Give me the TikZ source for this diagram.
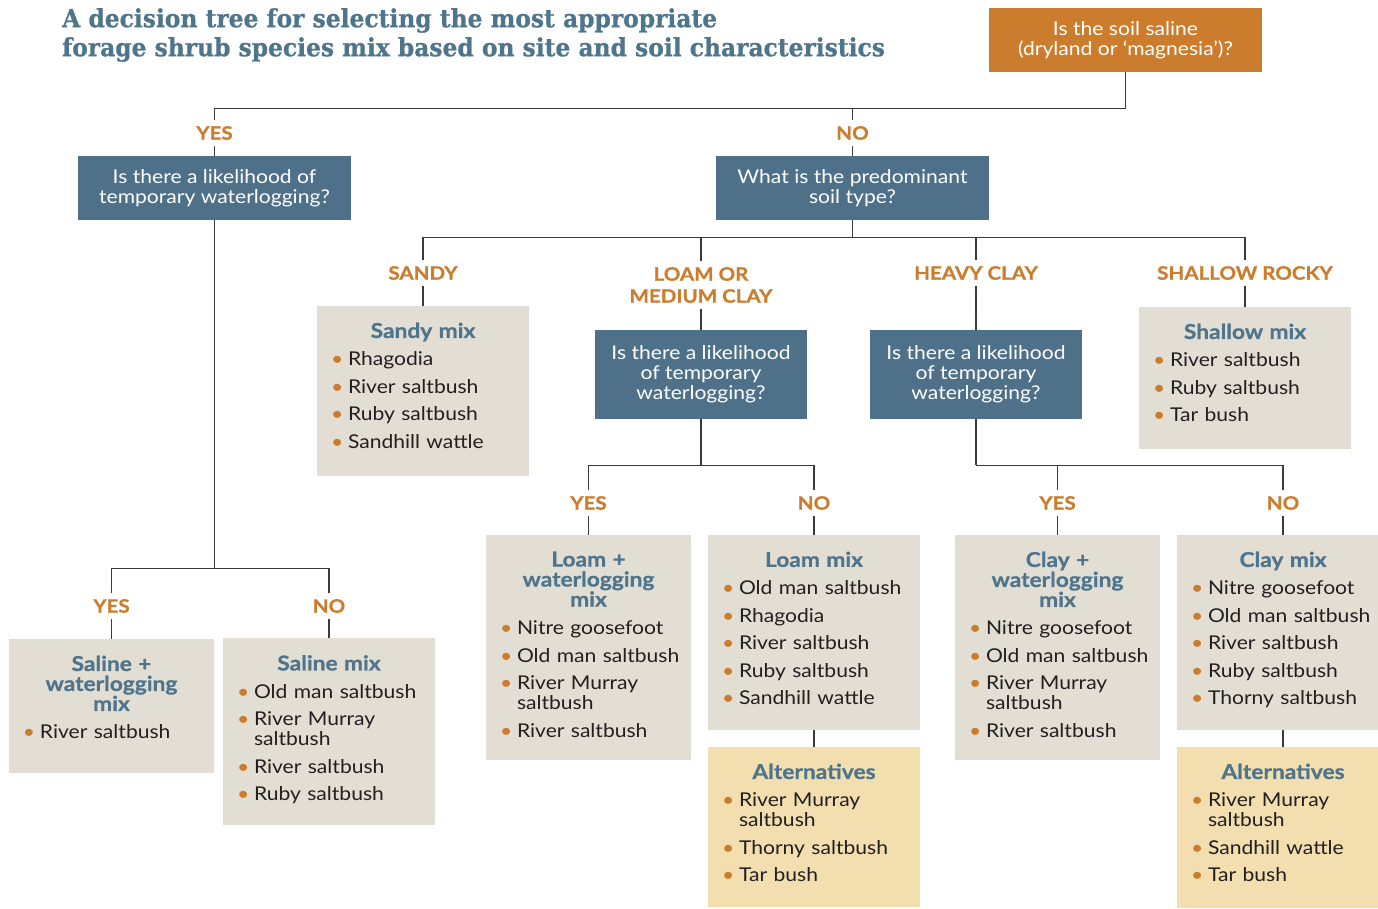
\documentclass[tikz,border=0pt]{standalone}
\usepackage{fontspec}
\setmainfont{Lato}[FakeStretch=1.11, BoldFeatures={FakeBold=0.8}]
\newfontfamily\headfont[FakeStretch=0.935, BoldFeatures={FakeBold=0.8}]{DejaVu Serif}
\usetikzlibrary{positioning}

\definecolor{brandorange}{HTML}{CB7C2D}
\definecolor{qblue}{HTML}{4E7189}
\definecolor{headblue}{HTML}{4F758D}
\definecolor{mixgray}{HTML}{E2DED3}
\definecolor{altyellow}{HTML}{F2DEAE}
\definecolor{bodyink}{HTML}{231F20}
\definecolor{linegray}{HTML}{3A3A3A}

\newcommand\bul{\makebox[17pt][l]{\textcolor{brandorange}{\textbullet}}}
\newcommand\mixitem[1]{\bul\mbox{#1}}
\newcommand\mixtitle[1]{\makebox[\linewidth]{\color{headblue}\bfseries\fontsize{20.5}{20}\selectfont #1}}
\newcommand\nx{\\[7.5pt]}

\tikzset{
  link/.style={draw=linegray, line width=1.4pt},
  qbox/.style={fill=qblue, text=white, align=center, inner sep=0pt,
    font=\fontsize{19}{20}\selectfont},
  answer/.style={text=brandorange, align=center, inner sep=6pt,
    font=\bfseries\fontsize{18.5}{22}\selectfont},
  mixbox/.style={fill=mixgray, anchor=north, inner sep=0pt},
  altbox/.style={fill=altyellow, anchor=north, inner sep=0pt},
  mixtxt/.style={text width=#1, align=left, inner sep=0pt, text=bodyink,
    font=\fontsize{19}{20}\selectfont},
}

\begin{document}
\begin{tikzpicture}[x=1pt,y=-1pt]
\useasboundingbox (0,0) rectangle (1378,908);

% heading
\node[anchor=west, align=left, text=headblue, inner sep=0pt,
  font=\headfont\bfseries\fontsize{25}{29}\selectfont] (heading) at (62,35)
  {A decision tree for selecting the most appropriate\\
   forage shrub species mix based on site and soil characteristics};

% questions
\node[qbox, fill=brandorange, minimum width=273pt, minimum height=64pt] (soil) at (1125.5,40)
  {Is the soil saline\\(dryland or ‘magnesia’)?};
\node[qbox, minimum width=273pt, minimum height=64pt] (salq) at (214.5,188)
  {Is there a likelihood of\\temporary waterlogging?};
\node[qbox, minimum width=273pt, minimum height=64pt] (typeq) at (852.5,188)
  {What is the predominant\\soil type?};
\node[qbox, minimum width=212pt, minimum height=89pt] (loamq) at (701,374.5)
  {Is there a likelihood\\of temporary\\waterlogging?};
\node[qbox, minimum width=212pt, minimum height=89pt] (heavyq) at (976,374.5)
  {Is there a likelihood\\of temporary\\waterlogging?};

% answers
\node[answer] (yes0) at (214.5,133) {YES};
\node[answer] (no0) at (852.5,133) {NO};
\node[answer] (yes1) at (111.5,606) {YES};
\node[answer] (no1) at (329,606) {NO};
\node[answer] (sandy) at (423,273) {SANDY};
\node[answer] (loam) at (701,285) {LOAM OR\\MEDIUM CLAY};
\node[answer] (heavy) at (976,273) {HEAVY CLAY};
\node[answer] (shallow) at (1245,273) {SHALLOW ROCKY};
\node[answer] (yes2) at (588.5,503) {YES};
\node[answer] (no2) at (814,503) {NO};
\node[answer] (yes3) at (1057.5,503) {YES};
\node[answer] (no3) at (1283,503) {NO};

% mixes
\node[mixbox, minimum width=205pt, minimum height=134pt] (salwl) at (111.5,639) {};
\node[mixtxt=177pt, below=16.5pt of salwl.north] (salwltxt)
  {\mixtitle{Saline +}\\\mixtitle{waterlogging}\\\mixtitle{mix}\\[8pt]
   \mixitem{River saltbush}};

\node[mixbox, minimum width=212pt, minimum height=187pt] (salmix) at (329,638) {};
\node[mixtxt=184pt, below=17pt of salmix.north] (salmixtxt)
  {\mixtitle{Saline mix}\\[8pt]
   \mixitem{Old man saltbush}\nx
   \mixitem{River Murray}\\\hspace*{17pt}saltbush\nx
   \mixitem{River saltbush}\nx
   \mixitem{Ruby saltbush}};

\node[mixbox, minimum width=212pt, minimum height=170pt] (sandybox) at (423,306) {};
\node[mixtxt=184pt, below=16.5pt of sandybox.north] (sandytxt)
  {\mixtitle{Sandy mix}\\[8pt]
   \mixitem{Rhagodia}\nx
   \mixitem{River saltbush}\nx
   \mixitem{Ruby saltbush}\nx
   \mixitem{Sandhill wattle}};

\node[mixbox, minimum width=212pt, minimum height=142pt] (shallowbox) at (1245,307) {};
\node[mixtxt=184pt, below=16.5pt of shallowbox.north] (shallowtxt)
  {\mixtitle{Shallow mix}\\[8pt]
   \mixitem{River saltbush}\nx
   \mixitem{Ruby saltbush}\nx
   \mixitem{Tar bush}};

\node[mixbox, minimum width=205pt, minimum height=225pt] (loamwl) at (588.5,535) {};
\node[mixtxt=177pt, below=16.5pt of loamwl.north] (loamwltxt)
  {\mixtitle{Loam +}\\\mixtitle{waterlogging}\\\mixtitle{mix}\\[8pt]
   \mixitem{Nitre goosefoot}\nx
   \mixitem{Old man saltbush}\nx
   \mixitem{River Murray}\\\hspace*{17pt}saltbush\nx
   \mixitem{River saltbush}};

\node[mixbox, minimum width=212pt, minimum height=195pt] (loammix) at (814,535) {};
\node[mixtxt=184pt, below=16.5pt of loammix.north] (loammixtxt)
  {\mixtitle{Loam mix}\\[8pt]
   \mixitem{Old man saltbush}\nx
   \mixitem{Rhagodia}\nx
   \mixitem{River saltbush}\nx
   \mixitem{Ruby saltbush}\nx
   \mixitem{Sandhill wattle}};

\node[mixbox, minimum width=205pt, minimum height=225pt] (claywl) at (1057.5,535) {};
\node[mixtxt=177pt, below=16.5pt of claywl.north] (claywltxt)
  {\mixtitle{Clay +}\\\mixtitle{waterlogging}\\\mixtitle{mix}\\[8pt]
   \mixitem{Nitre goosefoot}\nx
   \mixitem{Old man saltbush}\nx
   \mixitem{River Murray}\\\hspace*{17pt}saltbush\nx
   \mixitem{River saltbush}};

\node[mixbox, minimum width=212pt, minimum height=195pt] (claymix) at (1283,535) {};
\node[mixtxt=184pt, below=16.5pt of claymix.north] (claymixtxt)
  {\mixtitle{Clay mix}\\[8pt]
   \mixitem{Nitre goosefoot}\nx
   \mixitem{Old man saltbush}\nx
   \mixitem{River saltbush}\nx
   \mixitem{Ruby saltbush}\nx
   \mixitem{Thorny saltbush}};

% alternatives
\node[altbox, minimum width=212pt, minimum height=160pt] (loamalt) at (814,747) {};
\node[mixtxt=184pt, below=16.5pt of loamalt.north] (loamalttxt)
  {\mixtitle{Alternatives}\\[8pt]
   \mixitem{River Murray}\\\hspace*{17pt}saltbush\nx
   \mixitem{Thorny saltbush}\nx
   \mixitem{Tar bush}};

\node[altbox, minimum width=212pt, minimum height=161pt] (clayalt) at (1283,747) {};
\node[mixtxt=184pt, below=16.5pt of clayalt.north] (clayalttxt)
  {\mixtitle{Alternatives}\\[8pt]
   \mixitem{River Murray}\\\hspace*{17pt}saltbush\nx
   \mixitem{Sandhill wattle}\nx
   \mixitem{Tar bush}};

% connectors
\path (soil.south) ++(0,36) coordinate (j0);
\draw[link] (soil.south) -- (j0) -| (yes0.north);
\draw[link] (j0) -| (no0.north);
\draw[link] (yes0.south) -- (salq.north);
\draw[link] (no0.south) -- (typeq.north);

\path (salq.south) ++(0,348) coordinate (j1);
\draw[link] (salq.south) -- (j1);
\draw[link] (j1) -| (yes1.north);
\draw[link] (j1) -| (no1.north);
\draw[link] (yes1.south) -- (salwl.north);
\draw[link] (no1.south) -- (salmix.north);

\path (typeq.south) ++(0,17) coordinate (j2);
\draw[link] (typeq.south) -- (j2);
\draw[link] (j2) -| (sandy.north);
\draw[link] (j2) -| (loam.north);
\draw[link] (j2) -| (heavy.north);
\draw[link] (j2) -| (shallow.north);
\draw[link] (sandy.south) -- (sandybox.north);
\draw[link] (loam.south) -- (loamq.north);
\draw[link] (heavy.south) -- (heavyq.north);
\draw[link] (shallow.south) -- (shallowbox.north);

\path (loamq.south) ++(0,46) coordinate (j3);
\draw[link] (loamq.south) -- (j3);
\draw[link] (j3) -| (yes2.north);
\draw[link] (j3) -| (no2.north);
\draw[link] (yes2.south) -- (loamwl.north);
\draw[link] (no2.south) -- (loammix.north);
\draw[link] (loammix.south) -- (loamalt.north);

\path (heavyq.south) ++(0,46) coordinate (j4);
\draw[link] (heavyq.south) -- (j4);
\draw[link] (j4) -| (yes3.north);
\draw[link] (j4) -| (no3.north);
\draw[link] (yes3.south) -- (claywl.north);
\draw[link] (no3.south) -- (claymix.north);
\draw[link] (claymix.south) -- (clayalt.north);
\end{tikzpicture}
\end{document}
